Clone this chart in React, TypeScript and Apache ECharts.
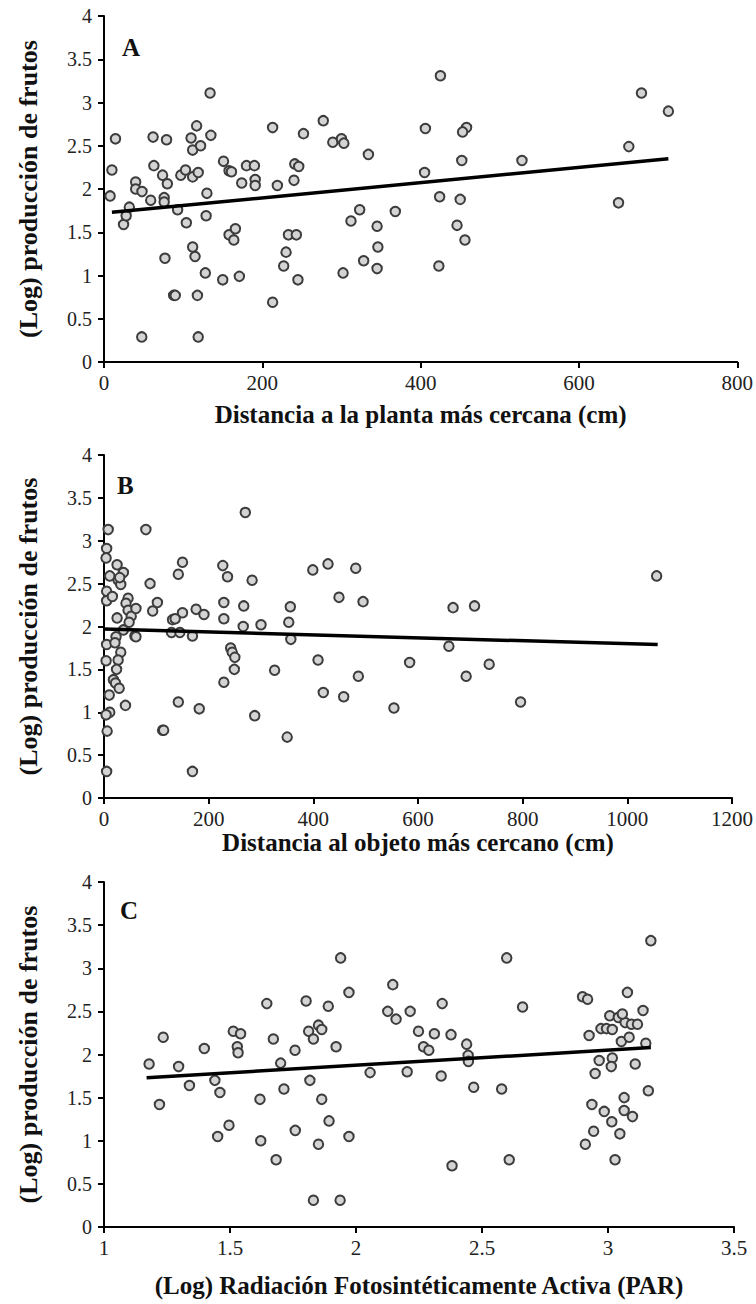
import React, { useEffect, useRef } from "react";
import * as echarts from "echarts";

const FONT = "'Liberation Serif', 'Times New Roman', serif";

// Panel A: distance to nearest plant (cm) vs log fruit production
const A_X = [7.7,10,14.5,24.7,28,32,40,40,48,47.7,59,62,63,74,76,76,80,79,77,88,90,93,97,103,104,110,112,112,117,122,119,112,115,118,128,119,130,129,134,135,151,158,161,150,158,166,164,171,174,180,190,191,191,213,219,213,227,230,233,243,245,240,241,246,252,277,289,300,303,302,312,323,328,334,345,346,345,425,406,458,453,452,405,528,663,679,713,650,424,450,368,446,456,423];
const A_Y = [1.92,2.22,2.58,1.59,1.69,1.79,2.08,2.0,1.97,0.29,1.87,2.60,2.27,2.16,1.90,1.85,2.06,2.57,1.20,0.77,0.77,1.76,2.16,2.22,1.61,2.59,2.14,2.45,2.73,2.50,2.19,1.33,1.22,0.77,1.03,0.29,1.95,1.69,3.11,2.62,2.32,2.21,2.20,0.95,1.47,1.54,1.41,0.99,2.07,2.27,2.27,2.11,2.04,2.71,2.04,0.69,1.11,1.27,1.47,1.47,0.95,2.10,2.29,2.26,2.64,2.79,2.54,2.58,2.53,1.03,1.63,1.76,1.17,2.40,1.57,1.33,1.08,3.31,2.70,2.71,2.66,2.33,2.19,2.33,2.49,3.11,2.90,1.84,1.91,1.88,1.74,1.58,1.41,1.11];
const A_FIT_X = [10, 713];
const A_FIT_Y = [1.73, 2.35];

// Panel B: distance to nearest object (cm)
const B_X = [8,5,4,11,5,5,16,25,37,27,32,30,46,42,46,52,61,48,25,37,59,61,5,23,21,32,27,4,24,18,22,29,10,41,11,4,6,5,80,88,102,93,112,114,142,150,150,131,136,129,145,142,176,191,169,182,169,227,236,229,229,267,283,270,266,300,242,245,250,249,229,288,326,350,356,353,357,399,428,481,449,495,409,419,458,486,1056,667,708,659,584,736,692,554,796];
const B_Y = [3.13,2.91,2.80,2.59,2.41,2.30,2.35,2.72,2.63,2.54,2.49,2.57,2.33,2.27,2.19,2.12,2.21,2.05,2.10,1.96,1.89,1.88,1.79,1.88,1.81,1.70,1.61,1.60,1.50,1.38,1.34,1.28,1.20,1.08,1.00,0.97,0.78,0.31,3.13,2.50,2.28,2.18,0.79,0.79,2.61,2.75,2.16,2.08,2.09,1.93,1.93,1.12,2.20,2.14,1.89,1.04,0.31,2.71,2.58,2.28,2.09,2.24,2.54,3.33,2.00,2.02,1.75,1.70,1.64,1.50,1.35,0.96,1.49,0.71,2.23,2.05,1.85,2.66,2.73,2.68,2.34,2.29,1.61,1.23,1.18,1.42,2.59,2.22,2.24,1.77,1.58,1.56,1.42,1.05,1.12];
const B_FIT_X = [0, 1058];
const B_FIT_Y = [1.97, 1.79];

// Panel C: log PAR
const C_X = [1.179,1.235,1.220,1.296,1.339,1.398,1.440,1.460,1.451,1.496,1.513,1.542,1.529,1.532,1.646,1.619,1.622,1.672,1.701,1.714,1.683,1.758,1.759,1.802,1.812,1.831,1.851,1.864,1.817,1.864,1.893,1.851,1.831,1.890,1.921,1.939,1.972,1.972,1.937,2.056,2.146,2.126,2.159,2.215,2.203,2.248,2.311,2.377,2.268,2.289,2.342,2.338,2.439,2.445,2.446,2.467,2.381,2.578,2.598,2.608,2.661,2.899,2.919,2.925,2.972,2.994,3.007,3.041,3.068,3.077,3.139,3.170,3.057,3.093,3.117,3.017,3.053,3.084,3.150,2.965,3.017,3.013,2.949,3.108,3.160,2.936,3.064,2.985,3.064,3.097,3.015,2.943,3.047,2.910,3.028];
const C_Y = [1.89,2.20,1.42,1.86,1.64,2.07,1.70,1.56,1.05,1.18,2.27,2.24,2.09,2.02,2.59,1.48,1.00,2.18,1.90,1.60,0.78,2.05,1.12,2.62,2.27,2.18,2.34,2.29,1.70,1.48,1.23,0.96,0.31,2.56,2.09,3.12,2.72,1.05,0.31,1.79,2.81,2.50,2.41,2.50,1.80,2.27,2.24,2.23,2.09,2.05,2.59,1.75,2.12,1.99,1.92,1.62,0.71,1.60,3.12,0.78,2.55,2.67,2.64,2.22,2.30,2.30,2.45,2.43,2.37,2.72,2.51,3.32,2.47,2.35,2.35,2.29,2.15,2.20,2.13,1.93,1.96,1.86,1.78,1.89,1.58,1.42,1.50,1.34,1.35,1.28,1.22,1.11,1.08,0.96,0.78];
const C_FIT_X = [1.169, 3.170];
const C_FIT_Y = [1.73, 2.08];

const Y_MIN = 0;
const Y_MAX = 4;
const Y_STEP = 0.5;

const X_NAMES = [
  "Distancia a la planta más cercana (cm)",
  "Distancia al objeto más cercano (cm)",
  "(Log) Radiación Fotosintéticamente Activa (PAR)",
];
const Y_NAME = "(Log) producción de frutos";
const PANEL_LETTERS = ["A", "B", "C"];

const zip = (xs: number[], ys: number[]) => xs.map((x, i) => [x, ys[i]]);

export default function App() {
  const ref = useRef<HTMLDivElement>(null);
  useEffect(() => {
    if (!ref.current) return;
    const chart = echarts.init(ref.current, null, { renderer: "svg" });

    const grids = [
      { left: 104, top: 16, width: 634, height: 346 },
      { left: 104, top: 455, width: 633, height: 343 },
      { left: 104, top: 882, width: 630, height: 345 },
    ];
    const xRanges = [
      { min: 0, max: 800, interval: 200 },
      { min: 0, max: 1200, interval: 200 },
      { min: 1, max: 3.5, interval: 0.5 },
    ];
    const nameGaps = [40, 31, 46];
    const axisLine = { show: true, lineStyle: { color: "#000", width: 2 } };
    const axisTick = { show: true, length: 6, lineStyle: { color: "#000", width: 2 } };

    const xAxis = xRanges.map((r, i) => ({
      type: "value",
      gridIndex: i,
      min: r.min,
      max: r.max,
      interval: r.interval,
      splitLine: { show: false },
      axisLine,
      axisTick,
      axisLabel: {
        fontFamily: FONT,
        fontSize: 21,
        color: "#222",
        margin: 10,
        formatter: (v: number) => String(v),
      },
      name: X_NAMES[i],
      nameLocation: "middle",
      nameGap: nameGaps[i],
      nameTextStyle: { fontFamily: FONT, fontSize: 25, fontWeight: "bold", color: "#111" },
    }));
    const yAxis = [0, 1, 2].map((i) => ({
      type: "value",
      gridIndex: i,
      min: Y_MIN,
      max: Y_MAX,
      interval: Y_STEP,
      splitLine: { show: false },
      axisLine,
      axisTick,
      axisLabel: {
        fontFamily: FONT,
        fontSize: 20,
        color: "#222",
        margin: 12,
        formatter: (v: number) => String(v),
      },
      name: Y_NAME,
      nameLocation: "middle",
      nameGap: 63,
      nameTextStyle: { fontFamily: FONT, fontSize: 26, fontWeight: "bold", color: "#111" },
    }));

    const scatter = (data: number[][], idx: number) => ({
      type: "scatter",
      xAxisIndex: idx,
      yAxisIndex: idx,
      data,
      symbol: "circle",
      symbolSize: 9.5,
      itemStyle: { color: "#d4d4d4", borderColor: "#3c3c3c", borderWidth: 2, opacity: 1 },
      z: 2,
    });
    const fit = (data: number[][], idx: number) => ({
      type: "line",
      xAxisIndex: idx,
      yAxisIndex: idx,
      data,
      symbol: "none",
      lineStyle: { color: "#000", width: 3.5 },
      z: 3,
    });

    const letterPos = [
      [122, 35],
      [117, 473],
      [120, 898],
    ];

    chart.setOption({
      animation: false,
      backgroundColor: "#fff",
      grid: grids,
      xAxis,
      yAxis,
      series: [
        scatter(zip(A_X, A_Y), 0),
        scatter(zip(B_X, B_Y), 1),
        scatter(zip(C_X, C_Y), 2),
        fit(zip(A_FIT_X, A_FIT_Y), 0),
        fit(zip(B_FIT_X, B_FIT_Y), 1),
        fit(zip(C_FIT_X, C_FIT_Y), 2),
      ],
      graphic: PANEL_LETTERS.map((t, i) => ({
        type: "text",
        left: letterPos[i][0],
        top: letterPos[i][1],
        style: { text: t, font: `bold 25px ${FONT}`, fill: "#111" },
      })),
    });
    return () => chart.dispose();
  }, []);
  return (
    <div
      ref={ref}
      style={{ position: "absolute", left: 0, top: 0, width: 756, height: 1304, background: "#fff" }}
    />
  );
}
